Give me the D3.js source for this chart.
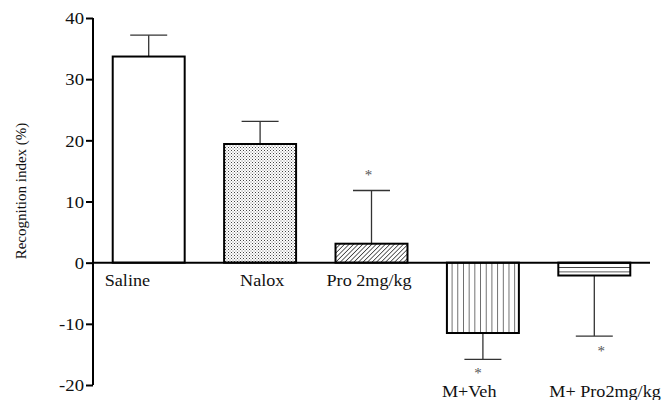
<!DOCTYPE html>
<html>
<head>
<meta charset="utf-8">
<script src="https://cdn.jsdelivr.net/npm/d3@7/dist/d3.min.js"></script>
<style>
  html, body { margin: 0; padding: 0; background: #fff; }
  svg { display: block; }
  text { font-family: "Liberation Serif", "DejaVu Serif", serif; fill: #111; }
</style>
</head>
<body>
<svg id="chart" width="668" height="400"></svg>
<script>
// ---- data ----
const categories = ["Saline", "Nalox", "Pro 2mg/kg", "M+Veh", "M+ Pro2mg/kg"];
const means      = [33.7, 19.4, 3.1, -11.5, -2.1];
const errors     = [3.5, 3.7, 8.7, 4.3, 9.9];
const significant = [false, false, true, true, true];
const yTicks     = [-20, -10, 0, 10, 20, 30, 40];
const yTitle     = "Recognition index (%)";
const fills      = ["none", "dots", "diag", "vert", "horiz"];

// ---- layout ----
const svg = d3.select("#chart");
const x = d3.scaleBand().domain(categories).range([93, 650]).paddingInner(0.336).paddingOuter(0.168);
const y = d3.scaleLinear().domain([-20, 40]).range([385, 18]);
const labelDx = [-7, 17, -8, -4, -8];
const starDx = [0, 0, -3, -5, 7];
const SX = 1.1; // horizontal stretch of the reference's text

// patterns
const defs = svg.append("defs");
const pDots = defs.append("pattern").attr("id", "dots").attr("patternUnits", "userSpaceOnUse").attr("width", 3).attr("height", 3);
pDots.append("rect").attr("width", 3).attr("height", 3).attr("fill", "#fff");
pDots.append("rect").attr("x", 0).attr("y", 0).attr("width", 1).attr("height", 1).attr("fill", "#444");
pDots.append("rect").attr("x", 1.5).attr("y", 1.5).attr("width", 1).attr("height", 1).attr("fill", "#777");

const pDiag = defs.append("pattern").attr("id", "diag").attr("patternUnits", "userSpaceOnUse").attr("width", 3.2).attr("height", 3.2)
  .attr("patternTransform", "rotate(45)");
pDiag.append("rect").attr("width", 3.2).attr("height", 3.2).attr("fill", "#fff");
pDiag.append("line").attr("x1", 0).attr("y1", 0).attr("x2", 0).attr("y2", 3.2).attr("stroke", "#222").attr("stroke-width", 1.4);

const bx3 = x("M+Veh");
const pVert = defs.append("pattern").attr("id", "vert").attr("patternUnits", "userSpaceOnUse").attr("width", x.bandwidth() / 13).attr("height", 10)
  .attr("x", bx3);
pVert.append("rect").attr("width", x.bandwidth() / 13).attr("height", 10).attr("fill", "#fff");
pVert.append("line").attr("x1", 0).attr("y1", 0).attr("x2", 0).attr("y2", 10).attr("stroke", "#111").attr("stroke-width", 1.2);

const pHoriz = defs.append("pattern").attr("id", "horiz").attr("patternUnits", "userSpaceOnUse").attr("width", 10).attr("height", 4.4)
  .attr("y", y(0));
pHoriz.append("rect").attr("width", 10).attr("height", 4.4).attr("fill", "#fff");
pHoriz.append("line").attr("x1", 0).attr("y1", 0).attr("x2", 10).attr("y2", 0).attr("stroke", "#111").attr("stroke-width", 1.4);

const data = categories.map((c, i) => ({ c, m: means[i], e: errors[i], s: significant[i], f: fills[i], i }));

// error bars (drawn behind bars)
const eb = svg.append("g").attr("stroke", "#333").attr("stroke-width", 1.3);
data.forEach(d => {
  const cx = x(d.c) + x.bandwidth() / 2;
  const tip = d.m >= 0 ? d.m + d.e : d.m - d.e;
  eb.append("line").attr("x1", cx).attr("x2", cx).attr("y1", y(d.m)).attr("y2", y(tip));
  eb.append("line").attr("x1", cx - x.bandwidth() / 4).attr("x2", cx + x.bandwidth() / 4).attr("y1", y(tip)).attr("y2", y(tip));
});

// bars
svg.append("g").selectAll("rect").data(data).join("rect")
  .attr("x", d => x(d.c) + 1)
  .attr("width", x.bandwidth() - 2)
  .attr("y", d => Math.min(y(d.m), y(0)))
  .attr("height", d => Math.abs(y(d.m) - y(0)))
  .attr("fill", d => d.f === "none" ? "#fff" : `url(#${d.f})`)
  .attr("stroke", "#000").attr("stroke-width", 2);

// y axis
const yAxis = d3.axisLeft(y).tickValues(yTicks).tickSize(7).tickPadding(2).tickFormat(d => String(d));
const ga = svg.append("g").attr("transform", "translate(93,0)").call(yAxis);
ga.select(".domain").attr("stroke", "#000").attr("stroke-width", 2).attr("d", `M0,${y(40)}V${y(-20)}`);
ga.selectAll(".tick line").attr("stroke", "#000").attr("stroke-width", 2);
ga.selectAll(".tick text")
  .style("font-family", '"Liberation Serif", serif').style("font-size", "17px").attr("fill", "#111")
  .attr("x", null).attr("dy", "0.34em")
  .attr("transform", `translate(-9,0) scale(${SX},1)`);

// zero line
svg.append("line").attr("x1", 93).attr("x2", 650).attr("y1", y(0)).attr("y2", y(0))
  .attr("stroke", "#000").attr("stroke-width", 2);

// category labels
svg.append("g").selectAll("text").data(data).join("text")
  .attr("transform", d => `translate(${x(d.c) + labelDx[d.i]},${d.m >= 0 ? y(0) + 23 : y(-20) + 12}) scale(${SX},1)`)
  .style("font-size", "16.5px")
  .text(d => d.c);

// significance stars
svg.append("g").selectAll("text").data(data.filter(d => d.s)).join("text")
  .attr("x", d => x(d.c) + x.bandwidth() / 2 + starDx[d.i])
  .attr("y", d => d.m >= 0 ? y(d.m + d.e) - 10 : (d.i === 3 ? y(-20) - 7 : y(d.m - d.e) + 20))
  .attr("text-anchor", "middle")
  .style("font-size", "15px").style("fill", "#555")
  .text("*");

// y title
svg.append("text")
  .attr("transform", `translate(26,191) rotate(-90)`)
  .attr("text-anchor", "middle")
  .style("font-size", "15px")
  .text(yTitle);
</script>
</body>
</html>
